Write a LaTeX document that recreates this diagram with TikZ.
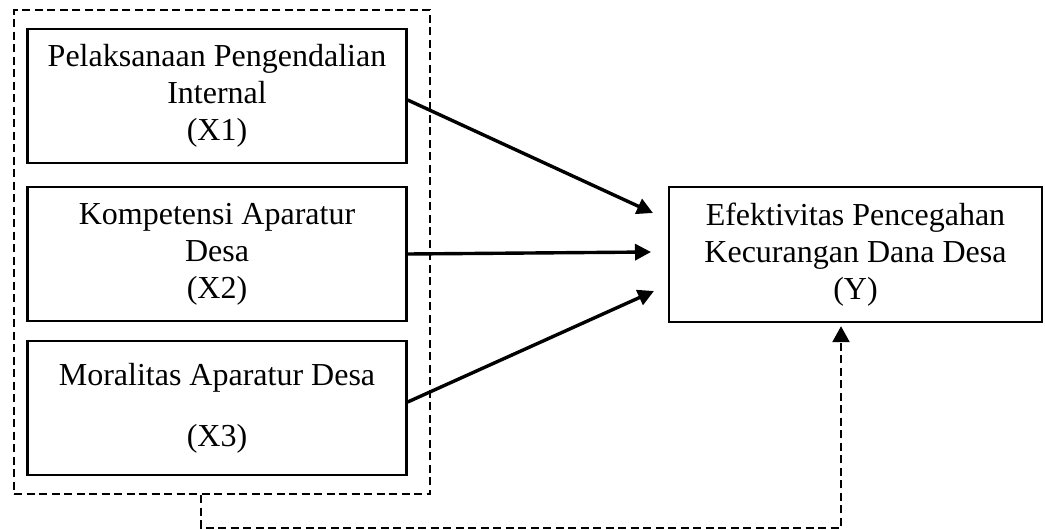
\documentclass[tikz,border=0pt]{standalone}
\usepackage{fontspec}
\setmainfont{Liberation Serif}
\usetikzlibrary{arrows.meta}
\begin{document}
\begin{tikzpicture}[x=1pt,y=-1pt,
  varbox/.style={draw,line width=2.4pt,rectangle,inner sep=0pt,align=center,
    font=\fontsize{32}{37}\selectfont},
  groupbox/.style={draw,line width=2.4pt,dash pattern=on 8pt off 4.5pt,rectangle,inner sep=0pt},
  solidarrow/.style={line width=3.4pt,-{Triangle[length=16pt,width=16pt]}},
  dasharrow/.style={line width=2.4pt,dash pattern=on 8pt off 4.5pt,-{Triangle[length=16pt,width=17pt]},shorten >=3pt}]
\useasboundingbox (0,0) rectangle (1045,530);
\node[groupbox,minimum width=416pt,minimum height=484pt] (G) at (222,252) {};
\node[varbox,minimum width=379pt,minimum height=134pt] (X1) at (217,96) {Pelaksanaan Pengendalian\\Internal\\(X1)};
\node[varbox,minimum width=379pt,minimum height=134pt] (X2) at (217,254) {Kompetensi Aparatur\\Desa\\(X2)};
\node[varbox,minimum width=379pt,minimum height=134pt] (X3) at (217,408) {Moralitas Aparatur Desa\\[24pt](X3)};
\node[varbox,minimum width=373pt,minimum height=135pt] (Y) at (855.5,254.5) {Efektivitas Pencegahan\\Kecurangan Dana Desa\\(Y)};
\coordinate (t1) at (653,213);
\coordinate (t2) at (651,252);
\coordinate (t3) at (654,291);
\coordinate (c1) at (201,528);
\coordinate (c2) at (841,528);
\draw[solidarrow] ([yshift=-4pt]X1.east) -- (t1);
\draw[solidarrow] (X2.east) -- (t2);
\draw[solidarrow] ([yshift=6pt]X3.east) -- (t3);
\draw[dasharrow] (G.south -| c1) -- (c1) -- (c2) -- (Y.south -| c2);
\end{tikzpicture}
\end{document}
